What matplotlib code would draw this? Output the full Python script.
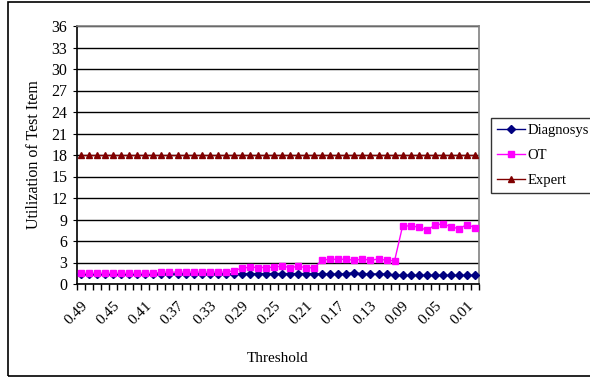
import matplotlib
matplotlib.use("Agg")
import matplotlib.pyplot as plt
from matplotlib.patches import Rectangle
from matplotlib.ticker import FixedLocator, NullFormatter

plt.rcParams['font.family'] = ['Liberation Serif', 'DejaVu Serif']

thresholds = ["0.49", "0.48", "0.47", "0.46", "0.45", "0.44", "0.43", "0.42", "0.41", "0.40",
              "0.39", "0.38", "0.37", "0.36", "0.35", "0.34", "0.33", "0.32", "0.31", "0.30",
              "0.29", "0.28", "0.27", "0.26", "0.25", "0.24", "0.23", "0.22", "0.21", "0.20",
              "0.19", "0.18", "0.17", "0.16", "0.15", "0.14", "0.13", "0.12", "0.11", "0.10",
              "0.09", "0.08", "0.07", "0.06", "0.05", "0.04", "0.03", "0.02", "0.01", "0.00"]

diagnosys = [1.4, 1.4, 1.4, 1.4, 1.4, 1.4, 1.4, 1.4, 1.4, 1.4,
             1.4, 1.4, 1.4, 1.4, 1.4, 1.4, 1.4, 1.4, 1.4, 1.4,
             1.45, 1.45, 1.45, 1.45, 1.45, 1.45, 1.45, 1.45, 1.45, 1.45,
             1.4, 1.4, 1.35, 1.45, 1.6, 1.4, 1.4, 1.4, 1.4, 1.2,
             1.2, 1.2, 1.2, 1.2, 1.2, 1.2, 1.2, 1.2, 1.2, 1.2]

ot = [1.5, 1.5, 1.5, 1.5, 1.5, 1.5, 1.5, 1.5, 1.5, 1.5,
      1.65, 1.65, 1.65, 1.65, 1.65, 1.65, 1.65, 1.65, 1.65, 1.85,
      2.2, 2.35, 2.3, 2.3, 2.35, 2.5, 2.3, 2.45, 2.3, 2.25,
      3.35, 3.45, 3.45, 3.45, 3.3, 3.5, 3.3, 3.5, 3.3, 3.25,
      8.1, 8.1, 7.95, 7.5, 8.2, 8.4, 8.0, 7.7, 8.3, 7.85]

expert = [18] * 50

labels = ["Diagnosys", "OT", "Expert"]
colors = ["#000080", "#FF00FF", "#800000"]

fig = plt.figure(figsize=(5.9, 3.79), dpi=100)
ax = fig.add_axes([77/590, 1 - 284/379, (479 - 77)/590, (284 - 26)/379])

x = list(range(len(thresholds)))
ax.plot(x, diagnosys, color=colors[0], marker="D", markersize=4, linewidth=1, label=labels[0], zorder=3)
ax.plot(x, ot, color=colors[1], marker="s", markersize=5, linewidth=1, label=labels[1], zorder=3)
ax.plot(x, expert, color=colors[2], marker="^", markersize=5, linewidth=1, label=labels[2], zorder=3)

ax.set_xlim(-0.5, len(thresholds) - 0.5)
ax.set_ylim(0, 36)
ax.set_yticks(range(0, 37, 3))
ax.yaxis.grid(True, color="black", linewidth=1)
ax.set_axisbelow(True)

# category labels every fourth threshold, small ticks between categories
major = list(range(0, len(thresholds), 4))
ax.xaxis.set_major_locator(FixedLocator(major))
ax.set_xticklabels([thresholds[i] for i in major], rotation=45, ha="right", va="top",
                   rotation_mode="anchor", fontsize=11)
ax.xaxis.set_minor_locator(FixedLocator([i - 0.5 for i in range(len(thresholds) + 1)]))
ax.xaxis.set_minor_formatter(NullFormatter())
ax.tick_params(axis="x", which="major", length=0, pad=11)
ax.tick_params(axis="x", which="minor", length=4, direction="out", width=1)
ax.tick_params(axis="y", length=3, direction="out", labelsize=11.5, pad=4)

for side in ("left", "bottom"):
    ax.spines[side].set_color("black")
    ax.spines[side].set_linewidth(1.2)
for side in ("top", "right"):
    ax.spines[side].set_color("#808080")
    ax.spines[side].set_linewidth(1.2)

ax.set_xlabel("Threshold", fontsize=11, labelpad=18)
ax.set_ylabel("Utilization of Test Item", fontsize=11.5, labelpad=7)

leg = fig.legend(loc="upper left", bbox_to_anchor=(491/590, 1 - 118/379), fontsize=10.5,
                 frameon=True, fancybox=False, edgecolor="black", handlelength=1.9,
                 borderpad=0.4, labelspacing=0.8, handletextpad=0.2, borderaxespad=0)
leg.get_frame().set_linewidth(1)

# outer chart border
fig.patches.append(Rectangle((8/590, 3/379), 1.2, 1 - 5/379, transform=fig.transFigure,
                             fill=False, edgecolor="black", linewidth=1.2))

fig.savefig("out.png", dpi=100)
